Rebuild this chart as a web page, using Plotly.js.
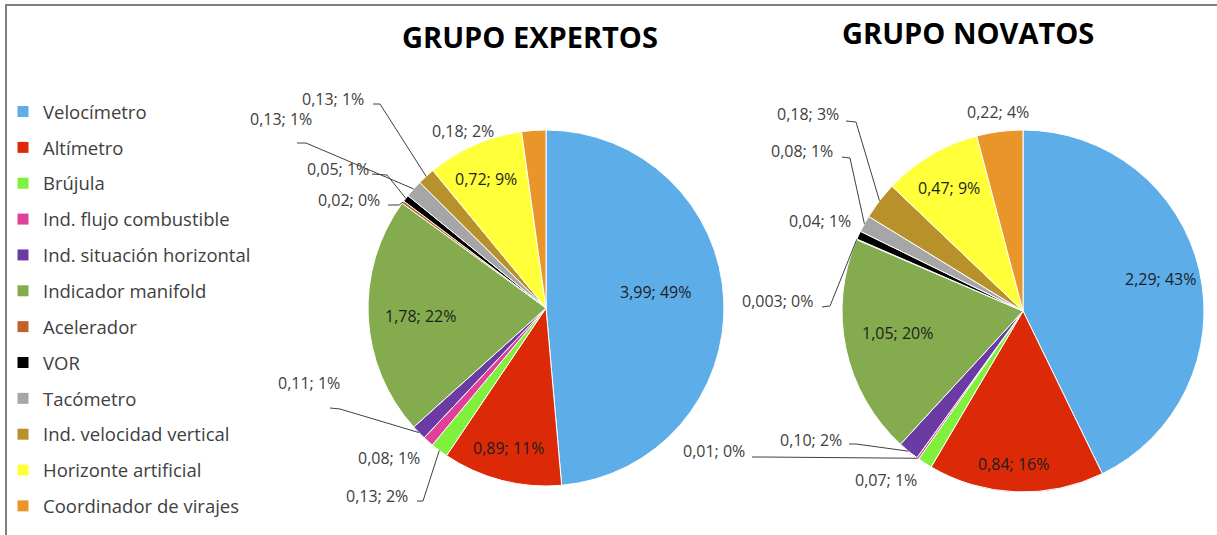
<!DOCTYPE html>
<html><head><meta charset="utf-8">
<script src="https://cdn.plot.ly/plotly-3.0.1.min.js"></script>
<style>html,body{margin:0;padding:0;background:#fff}#chart{width:1217px;height:535px}</style>
</head><body><div id="chart"></div>
<script>
// ---------- DATA ----------
const categories = ["Velocímetro","Altímetro","Brújula","Ind. flujo combustible","Ind. situación horizontal","Indicador manifold","Acelerador","VOR","Tacómetro","Ind. velocidad vertical","Horizonte artificial","Coordinador de virajes"];
const expertosValues = [3.99,0.89,0.13,0.08,0.11,1.78,0.02,0.05,0.13,0.13,0.72,0.18];
const expertosPct    = [49,11,2,1,1,22,0,1,1,1,9,2];
const novatosValues  = [2.29,0.84,0.07,0.01,0.10,1.05,0.003,0.04,0.08,0.18,0.47,0.22];
const novatosPct     = [43,16,1,0,2,20,0,1,1,3,9,4];
const groupTitles = ["GRUPO EXPERTOS","GRUPO NOVATOS"];

// ---------- STYLE / LAYOUT ----------
const colors = ["#5DADE9","#DC2A08","#7FF03C","#E0409A","#6A3BA2","#84AC4E","#C0622A","#000000","#A6A6A6","#B8912A","#FFFF3A","#E8962A"];
const W = 1217, H = 535;
const FONT = "'Open Sans', Lato, sans-serif";
const pies = [
  {cx:546, cy:308, r:178},
  {cx:1023, cy:311, r:181}
];
// label placement (px): c = text centre, s/e = leader line start & elbow, inside = label drawn on the slice
const labelPlace = [
  {
    0:{c:[655,292], inside:true},
    1:{c:[508,448], inside:true},
    2:{c:[377,496], s:[417,501], e:[423,501]},
    3:{c:[389,458]},
    4:{c:[309,383], s:[330,408], e:[340,409]},
    5:{c:[420,316], inside:true},
    6:{c:[349,200], s:[388,205], e:[399,205]},
    7:{c:[338,169], s:[372,174], e:[387,175]},
    8:{c:[281,119], s:[297,143], e:[306,143]},
    9:{c:[333,99],  s:[373,104], e:[380,104]},
    10:{c:[486,179], inside:true},
    11:{c:[463,131]}
  },
  {
    0:{c:[1160,279], inside:true},
    1:{c:[1013,464], inside:true},
    2:{c:[886,480]},
    3:{c:[714,451], s:[752,457], e:[760,457]},
    4:{c:[811,440], s:[849,444], e:[856,444]},
    5:{c:[897,333], inside:true},
    6:{c:[777,301], s:[822,307], e:[830,306]},
    7:{c:[820,221]},
    8:{c:[802,151], s:[842,157], e:[850,158]},
    9:{c:[808,114], s:[846,121], e:[856,122]},
    10:{c:[949,188], inside:true},
    11:{c:[998,112]}
  }
];
const titlePos = [[530,37],[968,33]];

function fmt(v){ let s=v.toFixed(2); if(parseFloat(s)!==v) s=String(v); return s.replace('.',','); }
const px2x = x => x/W, px2y = y => 1 - y/H;

const datasets = [[expertosValues, expertosPct],[novatosValues, novatosPct]];
const traces = [], annotations = [], shapes = [];

datasets.forEach(([vals,pct], k) => {
  const p = pies[k];
  const texts = vals.map((v,i)=> fmt(v)+'; '+pct[i]+'%');
  traces.push({
    type:'pie', values: vals, labels: categories, text: texts, textinfo:'none',
    sort:false, direction:'clockwise', rotation:0,
    marker:{colors: colors, line:{color:'#ffffff', width:1}},
    domain:{x:[px2x(p.cx-p.r), px2x(p.cx+p.r)], y:[px2y(p.cy+p.r), px2y(p.cy-p.r)]},
    showlegend:false, hoverinfo:'label+value+percent'
  });
  const total = vals.reduce((a,b)=>a+b,0);
  let cum = 0;
  vals.forEach((v,i)=>{
    const mid = (cum + v/2)/total*2*Math.PI; cum += v;
    const L = labelPlace[k][i];
    if(!L) return;
    annotations.push({xref:'paper', yref:'paper', x:px2x(L.c[0]), y:px2y(L.c[1]), xanchor:'center', yanchor:'middle',
      text: texts[i], showarrow:false,
      font:{family:FONT, size:16, color: L.inside ? '#1e1e1e' : '#404040'}});
    if(L.s){
      const tx = p.cx + p.r*Math.sin(mid), ty = p.cy - p.r*Math.cos(mid);
      shapes.push({type:'path', xref:'paper', yref:'paper',
        path:`M ${px2x(L.s[0])},${px2y(L.s[1])} L ${px2x(L.e[0])},${px2y(L.e[1])} L ${px2x(tx)},${px2y(ty)}`,
        line:{color:'#404040', width:1}});
    }
  });
  annotations.push({xref:'paper', yref:'paper', x:px2x(titlePos[k][0]), y:px2y(titlePos[k][1]), xanchor:'center', yanchor:'middle',
    text:'<b>'+groupTitles[k]+'</b>', showarrow:false, font:{family:FONT, size:29, color:'#000'}});
});

// legend entries
categories.forEach((c,i)=> traces.push({type:'scatter', x:[null], y:[null], mode:'markers', name:c,
  marker:{symbol:'square', size:11, color:colors[i]}, legendgroup:'g'+i, showlegend:true, hoverinfo:'skip'}));

// frame
shapes.push({type:'line', xref:'paper', yref:'paper', x0:px2x(5), x1:1, y0:px2y(5), y1:px2y(5), line:{color:'#7f7f7f', width:2}});
shapes.push({type:'line', xref:'paper', yref:'paper', x0:px2x(6), x1:px2x(6), y0:0, y1:px2y(5), line:{color:'#7f7f7f', width:2}});

const layout = {
  width:W, height:H, margin:{l:0,r:0,t:0,b:0},
  paper_bgcolor:'#fff', plot_bgcolor:'#fff',
  xaxis:{visible:false}, yaxis:{visible:false},
  showlegend:true,
  legend:{x:px2x(3), y:px2y(93), xanchor:'left', yanchor:'top', traceorder:'grouped', tracegroupgap:8.8,
    font:{family:FONT, size:18.5, color:'#404040'}, bgcolor:'rgba(0,0,0,0)'},
  annotations, shapes
};
Plotly.newPlot('chart', traces, layout, {displayModeBar:false, staticPlot:true});
</script></body></html>
